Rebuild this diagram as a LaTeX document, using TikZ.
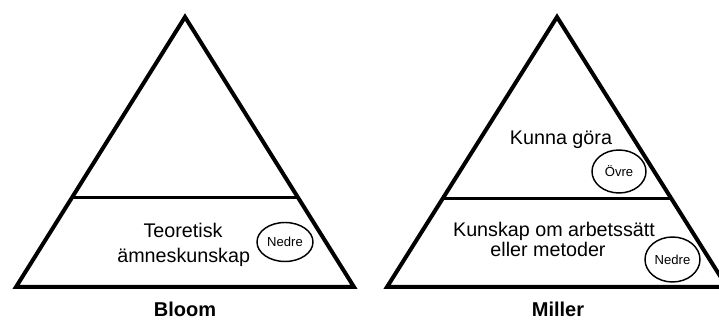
\documentclass[tikz,border=0pt]{standalone}
\usepackage{fontspec}
\setmainfont{Liberation Sans}
\usetikzlibrary{shapes.geometric,calc}
\begin{document}
\begin{tikzpicture}[x=0.75pt,y=-0.75pt,
  tri/.style={line width=3pt,line join=miter},
  divline/.style={line width=2.25pt},
  lbl/.style={font=\fontsize{14.8}{17}\selectfont, inner sep=0pt, anchor=base},
  ttl/.style={font=\fontsize{15}{18}\selectfont\bfseries, inner sep=0pt, anchor=base},
  tag/.style={draw, ellipse, line width=1.1pt, inner sep=0pt, font=\fontsize{9.8}{11}\selectfont},
]
\useasboundingbox (0,0) rectangle (719,320);
\clip (0,0) rectangle (719,320);
% Bloom
\coordinate (LA) at (185,17);
\coordinate (LB) at (16,287);
\coordinate (LC) at (354,287);
\coordinate (LD1) at ($(LA)!0.667!(LB)$);
\coordinate (LD2) at ($(LA)!0.667!(LC)$);
\draw[tri] (LA) -- (LB) -- (LC) -- cycle;
\draw[divline] (LD1) -- (LD2);
\node[lbl] (t1) at (183,238) {Teoretisk};
\node[lbl] (t2) at (183.7,262.5) {ämneskunskap};
\node[tag, minimum width=42pt, minimum height=29.25pt] (n1) at (285,242) {Nedre};
\node[ttl] (bloom) at (185,316.5) {Bloom};
% Miller
\coordinate (RA) at (557,17);
\coordinate (RB) at (387,287);
\coordinate (RC) at (727,287);
\coordinate (RD1) at ($(RA)!0.674!(RB)$);
\coordinate (RD2) at ($(RA)!0.674!(RC)$);
\draw[tri] (RA) -- (RB) -- (RC) -- cycle;
\draw[divline] (RD1) -- (RD2);
\node[lbl] (k1) at (561,145) {Kunna göra};
\node[tag, minimum width=40.5pt, minimum height=32.25pt] (o1) at (619,171.5) {Övre};
\node[lbl] (k2) at (554,236.5) {Kunskap om arbetssätt};
\node[lbl] (k3) at (548,256.5) {eller metoder};
\node[tag, minimum width=41.25pt, minimum height=33.75pt] (n2) at (672.5,259.5) {Nedre};
\node[ttl] (miller) at (558,316.5) {Miller};
\end{tikzpicture}
\end{document}
